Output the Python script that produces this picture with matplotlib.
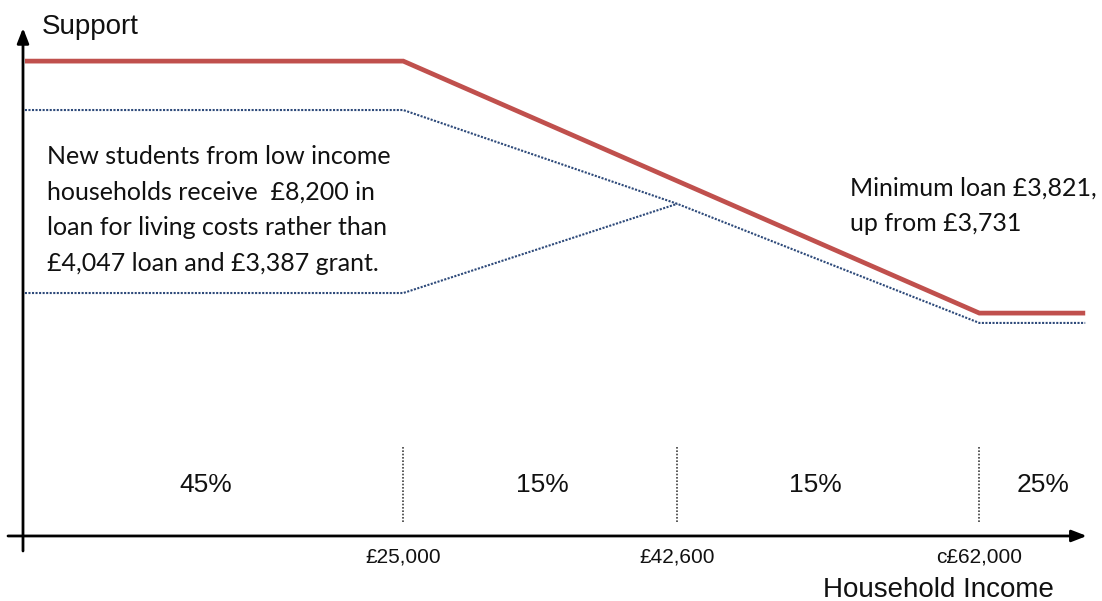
import matplotlib
matplotlib.use("Agg")
import matplotlib.pyplot as plt

# ---- data (schematic values) ----
new_income = [700, 25000, 62000, 68800]          # household income (£)
new_support = [8200, 8200, 3821, 3821]           # new maximum loan
old_total_income = [700, 25000, 42600, 62000, 68800]
old_total_support = [7350, 7350, 5720, 3650, 3650]  # old loan + grant
old_loan_income = [700, 25000, 42600]
old_loan_support = [4170, 4170, 5720]            # old loan
thresholds = [25000, 42600, 62000]
threshold_labels = ["£25,000", "£42,600", "c£62,000"]
band_centres = [12330, 33910, 51440, 66090]
band_labels = ["45%", "15%", "15%", "25%"]

RED = "#C0504D"
BLUE = "#2E4A7A"

fig = plt.figure(figsize=(11.02, 6.01), dpi=100)
ax = fig.add_axes([0, 0, 1, 1])
ax.set_xlim(-899, 69878)
ax.set_ylim(-1182, 9262)
ax.axis("off")

# axes with arrows
ax.annotate("", xy=(68900, -52), xytext=(-385, -52),
            arrowprops=dict(arrowstyle="-|>,head_length=0.9,head_width=0.35",
                            color="black", lw=2, shrinkA=0, shrinkB=0))
ax.annotate("", xy=(578, 8775), xytext=(578, -313),
            arrowprops=dict(arrowstyle="-|>,head_length=0.9,head_width=0.35",
                            color="black", lw=2, shrinkA=0, shrinkB=0))

# lines
ax.plot(old_total_income, old_total_support, color=BLUE, lw=1.5,
        linestyle=(0, (1, 0.7)), solid_capstyle="butt")
ax.plot(old_loan_income, old_loan_support, color=BLUE, lw=1.5,
        linestyle=(0, (1, 0.7)))
ax.plot(new_income, new_support, color=RED, lw=3.4, solid_joinstyle="miter",
        solid_capstyle="butt")

# threshold separators and labels
for x, lab in zip(thresholds, threshold_labels):
    ax.plot([x, x], [191, 1494], color="#404040", lw=1.2, linestyle=(0, (1, 1)))
    ax.text(x, -415, lab, ha="center", va="center", fontsize=15,
            family="Liberation Sans", color="#111111")

for x, lab in zip(band_centres, band_labels):
    ax.text(x, 834, lab, ha="center", va="center", fontsize=19,
            family="Liberation Sans", color="#111111")

ax.text(1790, 8790, "Support", ha="left", va="center",
        fontsize=20, family="Liberation Sans", color="#111111")
ax.text(59350, -990, "Household Income", ha="center", va="center",
        fontsize=20, family="Liberation Sans", color="#111111")

ax.text(2120, 5613,
        "New students from low income\nhouseholds receive  £8,200 in\n"
        "loan for living costs rather than\n£4,047 loan and £3,387 grant.",
        ha="left", va="center", fontsize=18, family="Lato",
        linespacing=1.68, color="#111111")
ax.text(53700, 5682, "Minimum loan £3,821,\nup from £3,731", ha="left",
        va="center", fontsize=18, family="Lato", linespacing=1.68,
        color="#111111")

fig.savefig("out.png", dpi=100)
